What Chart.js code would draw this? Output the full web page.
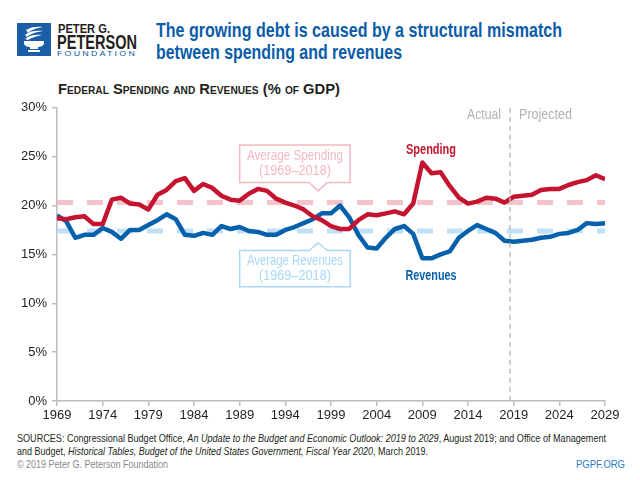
<!DOCTYPE html>
<html>
<head>
<meta charset="utf-8">
<script src="https://cdn.jsdelivr.net/npm/chart.js@4/dist/chart.umd.min.js"></script>
<style>
  html, body { margin: 0; padding: 0; background: #fff; }
  #page { position: relative; width: 640px; height: 480px; overflow: hidden; font-family: "Liberation Sans", sans-serif; }
  .abs { position: absolute; white-space: nowrap; line-height: 1; transform-origin: left top; }
  #logoText1 { left: 58px; top: 22px; font: bold 12px "Liberation Sans", sans-serif; color: #231f20; }
  #logoText2 { left: 57px; top: 31px; font: bold 19.5px "Liberation Sans", sans-serif; color: #231f20; }
  #logoText3 { left: 57px; top: 49px; font: 8px "Liberation Sans", sans-serif; letter-spacing: 2px; color: #0b5ca8; }
  .title { left: 156px; font: bold 19.5px "Liberation Sans", sans-serif; color: #0b5ca8; }
  #title1 { top: 19px; }
  #title2 { top: 41px; }
  #subtitle { left: 58px; top: 81px; font: bold 14.5px "Liberation Sans", sans-serif; font-variant: small-caps; color: #231f20; }
  .src { left: 17px; font: 10.5px "Liberation Sans", sans-serif; color: #231f20; }
  #src1 { top: 432px; }
  #src2 { top: 445px; }
  #copy { left: 17px; top: 458px; font: 10.5px "Liberation Sans", sans-serif; color: #8a8a8a; }
  #site { left: 576px; top: 458px; font: 11px "Liberation Sans", sans-serif; color: #1f7cc7; }
  #chartBox { position: absolute; left: 0; top: 95px; width: 640px; height: 335px; }
</style>
</head>
<body>
<div id="page">
  <svg class="abs" style="left:17px;top:23px" width="34" height="33" viewBox="0 0 34 33">
    <rect width="34" height="33" fill="#1a5ea8"/>
    <path d="M9 7 C13 4, 20 3, 26 4 C20 5, 14 7, 11 10 Z" fill="#fff"/>
    <path d="M8 12 C12 8, 19 7, 26 8 C19 9, 13 11, 10 14 Z" fill="#fff"/>
    <path d="M8 16 C12 12, 19 11, 25 12 C19 13, 14 15, 11 17 Z" fill="#fff"/>
    <path d="M7 18 H27 V20 C27 23, 23 24, 21 24 V26 H13 V24 C11 24, 7 23, 7 20 Z" fill="#fff"/>
    <rect x="11" y="27" width="12" height="2" fill="#fff"/>
  </svg>
  <div class="abs" id="logoText1" data-w="52">PETER G.</div>
  <div class="abs" id="logoText2" data-w="80">PETERSON</div>
  <div class="abs" id="logoText3" data-w="80">FOUNDATION</div>
  <div class="abs title" id="title1" data-w="406">The growing debt is caused by a structural mismatch</div>
  <div class="abs title" id="title2" data-w="246">between spending and revenues</div>
  <div class="abs" id="subtitle" data-w="282">Federal Spending and Revenues (% of GDP)</div>
  <div id="chartBox"><canvas id="chart"></canvas></div>
  <div class="abs src" id="src1" data-w="589">SOURCES: Congressional Budget Office, <i>An Update to the Budget and Economic Outlook: 2019 to 2029</i>, August 2019; and Office of Management</div>
  <div class="abs src" id="src2" data-w="411">and Budget, <i>Historical Tables, Budget of the United States Government, Fiscal Year 2020</i>, March 2019.</div>
  <div class="abs" id="copy" data-w="151">© 2019 Peter G. Peterson Foundation</div>
  <div class="abs" id="site" data-w="49">PGPF.ORG</div>
</div>
<script>
const years = [];
for (let y = 1969; y <= 2029; y++) years.push(y);

const spending = [
  18.7, 18.6, 18.8, 18.9, 18.1, 18.1, 20.6, 20.8, 20.2, 20.1,
  19.6, 21.1, 21.6, 22.5, 22.8, 21.5, 22.2, 21.8, 21.0, 20.6,
  20.5, 21.2, 21.7, 21.5, 20.7, 20.3, 20.0, 19.6, 18.9, 18.5,
  17.9, 17.6, 17.6, 18.5, 19.1, 19.0, 19.2, 19.4, 19.1, 20.2,
  24.4, 23.3, 23.4, 22.0, 20.8, 20.2, 20.4, 20.8, 20.7, 20.3,
  20.9, 21.0, 21.1, 21.6, 21.7, 21.7, 22.1, 22.4, 22.6, 23.1, 22.7
];
const revenues = [
  19.0, 18.4, 16.7, 17.0, 17.0, 17.7, 17.3, 16.6, 17.5, 17.5,
  18.0, 18.5, 19.1, 18.6, 17.0, 16.9, 17.2, 17.0, 17.9, 17.6,
  17.8, 17.4, 17.3, 17.0, 17.0, 17.5, 17.8, 18.2, 18.6, 19.2,
  19.2, 20.0, 18.8, 17.0, 15.7, 15.6, 16.7, 17.6, 17.9, 17.1,
  14.6, 14.6, 15.0, 15.3, 16.7, 17.4, 18.0, 17.6, 17.2, 16.4,
  16.3, 16.4, 16.5, 16.7, 16.8, 17.1, 17.2, 17.5, 18.2, 18.1, 18.2
];
const avgSpending = 20.3;
const avgRevenues = 17.4;
const splitYear = 2018.6;
const yTicks = [0, 5, 10, 15, 20, 25, 30];

const RED = '#c4142f';
const BLUE = '#0760ab';
const PINK = '#f5c3ca';
const LIGHTBLUE = '#bfe1f8';
const FONT = '"Liberation Sans", sans-serif';

// squeeze header/footer text to the reference widths
document.querySelectorAll('[data-w]').forEach(el => {
  const natural = el.getBoundingClientRect().width;
  el.style.transform = `scaleX(${Number(el.dataset.w) / natural})`;
});

const toPoints = arr => arr.map((v, i) => ({ x: years[i], y: v }));
const flat = v => [{ x: years[0], y: v }, { x: years[years.length - 1], y: v }];

const annotations = {
  id: 'annotations',
  afterDatasetsDraw(chart) {
    const { ctx, scales: { x, y }, chartArea } = chart;
    ctx.save();
    // actual / projected divider
    const sx = x.getPixelForValue(splitYear);
    ctx.strokeStyle = '#bdbdbd';
    ctx.lineWidth = 1.5;
    ctx.setLineDash([5, 4]);
    ctx.beginPath();
    ctx.moveTo(sx, chartArea.top);
    ctx.lineTo(sx, chartArea.bottom);
    ctx.stroke();
    ctx.setLineDash([]);

    ctx.font = '14px ' + FONT;
    ctx.fillStyle = '#b3b3b3';
    ctx.textBaseline = 'middle';
    ctx.textAlign = 'right';
    ctx.fillText('Actual', sx - 9, y.getPixelForValue(29.2), 34);
    ctx.textAlign = 'left';
    ctx.fillText('Projected', sx + 9, y.getPixelForValue(29.2), 53);

    // series labels
    ctx.font = 'bold 14px ' + FONT;
    ctx.textAlign = 'center';
    ctx.fillStyle = RED;
    ctx.fillText('Spending', x.getPixelForValue(2009.95), y.getPixelForValue(25.7), 50);
    ctx.fillStyle = BLUE;
    ctx.fillText('Revenues', x.getPixelForValue(2009.95), y.getPixelForValue(12.8), 51);

    // callout boxes
    const left = x.getPixelForValue(1989.0);
    const right = x.getPixelForValue(2001.1);
    const px = x.getPixelForValue(1997.6);
    const callout = (top, bottom, tip, down, color, lines) => {
      ctx.strokeStyle = color;
      ctx.lineWidth = 1.5;
      ctx.fillStyle = '#fff';
      ctx.beginPath();
      if (down) {
        ctx.moveTo(left, top); ctx.lineTo(right, top); ctx.lineTo(right, bottom);
        ctx.lineTo(px + 9, bottom); ctx.lineTo(px, tip); ctx.lineTo(px - 9, bottom);
        ctx.lineTo(left, bottom); ctx.closePath();
      } else {
        ctx.moveTo(left, top); ctx.lineTo(px - 9, top); ctx.lineTo(px, tip); ctx.lineTo(px + 9, top);
        ctx.lineTo(right, top); ctx.lineTo(right, bottom); ctx.lineTo(left, bottom); ctx.closePath();
      }
      ctx.fill();
      ctx.stroke();
      ctx.fillStyle = color;
      ctx.font = '14px ' + FONT;
      ctx.textAlign = 'center';
      const cx = (left + right) / 2;
      const mid = (top + bottom) / 2;
      ctx.fillText(lines[0], cx, mid - 7.5, 96);
      ctx.fillText(lines[1], cx, mid + 7.5, 72);
    };
    callout(y.getPixelForValue(26.2), y.getPixelForValue(22.35), y.getPixelForValue(21.5), true, '#f4b8c0', ['Average Spending', '(1969–2018)']);
    callout(y.getPixelForValue(15.4), y.getPixelForValue(11.7), y.getPixelForValue(16.2), false, '#a9d8f7', ['Average Revenues', '(1969–2018)']);
    ctx.restore();
  }
};

new Chart(document.getElementById('chart'), {
  type: 'line',
  data: {
    datasets: [
      { label: 'Spending', data: toPoints(spending), borderColor: RED, borderWidth: 4.5, order: 1 },
      { label: 'Revenues', data: toPoints(revenues), borderColor: BLUE, borderWidth: 4.5, order: 2 },
      { label: 'Average Spending', data: flat(avgSpending), borderColor: PINK, borderWidth: 5, borderDash: [16, 14], order: 3 },
      { label: 'Average Revenues', data: flat(avgRevenues), borderColor: LIGHTBLUE, borderWidth: 5, borderDash: [16, 14], order: 4 }
    ]
  },
  options: {
    responsive: true,
    maintainAspectRatio: false,
    animation: false,
    events: [],
    layout: { padding: { top: 12, right: 35, left: 0, bottom: 0 } },
    elements: { point: { radius: 0 }, line: { tension: 0, borderJoinStyle: 'round', borderCapStyle: 'butt', fill: false } },
    plugins: { legend: { display: false }, tooltip: { enabled: false } },
    scales: {
      x: {
        type: 'linear', min: 1969, max: 2029,
        border: { color: '#bdbdbd', width: 1.5 },
        grid: { drawOnChartArea: false, color: '#bdbdbd', tickLength: 5, lineWidth: 1.5 },
        ticks: { stepSize: 5, autoSkip: false, maxRotation: 0, color: '#231f20', font: { size: 13, family: FONT }, padding: 2, callback: v => String(v) },
        afterFit: s => { s.height = 29; }
      },
      y: {
        min: 0, max: 30,
        border: { color: '#bdbdbd', width: 1.5 },
        grid: { drawOnChartArea: false, color: '#bdbdbd', tickLength: 5, lineWidth: 1.5 },
        afterBuildTicks: s => { s.ticks = yTicks.map(v => ({ value: v })); },
        ticks: { color: '#231f20', font: { size: 13, family: FONT }, padding: 5, callback: v => v + '%' },
        afterFit: s => { s.width = 57; }
      }
    }
  },
  plugins: [annotations]
});
</script>
</body>
</html>
